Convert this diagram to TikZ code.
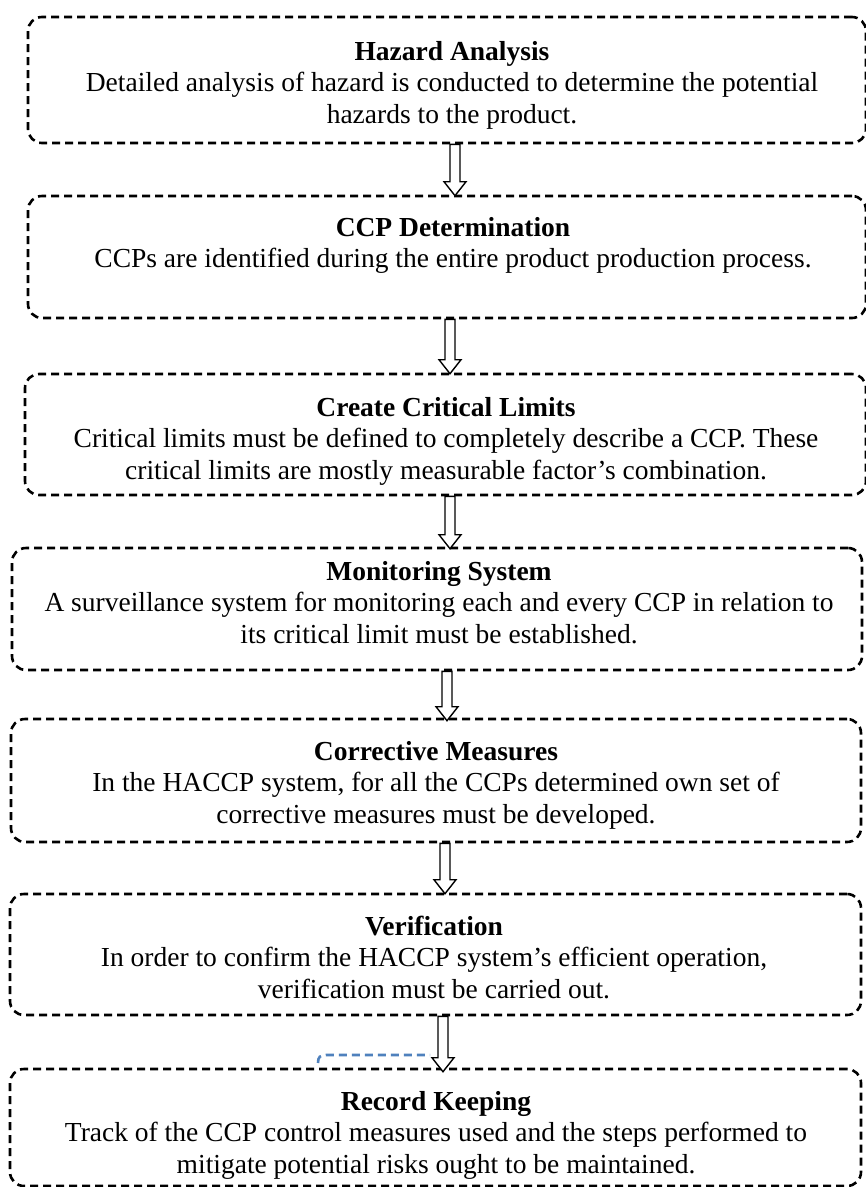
\documentclass[tikz,border=0pt]{standalone}
\usepackage{fontspec}
\setmainfont{Liberation Serif}
\usetikzlibrary{calc}
\definecolor{strayblue}{HTML}{4F81BD}
\newcommand\hollowarrow[2]{%
  \draw[hollow] ($(#1)+(-5,0)$) -- ($(#2)+(-5,-14)$) -- ($(#2)+(-11,-14)$) -- (#2)
    -- ($(#2)+(11,-14)$) -- ($(#2)+(5,-14)$) -- ($(#1)+(5,0)$) -- cycle;}
\begin{document}
\begin{tikzpicture}[x=1pt,y=-1pt,
  stepbox/.style={draw, line width=2.6pt, dash pattern=on 8pt off 5pt, rounded corners=14pt, inner sep=0pt},
  txt/.style={anchor=north, align=center, inner sep=0pt, font={\fontsize{27.5}{31.6}\selectfont}},
  hollow/.style={draw=black, line width=1.4pt, fill=white, line join=miter},
  stray/.style={draw=strayblue, line width=2.6pt, dash pattern=on 8pt off 5pt}]
\fill[white] (0,0) rectangle (866,1187);
\useasboundingbox (0,0) rectangle (866,1187);

% boxes
\node[stepbox, minimum width=838pt, minimum height=126pt] (b1) at (447,80) {};
\node[stepbox, minimum width=838pt, minimum height=122pt] (b2) at (447,257) {};
\node[stepbox, minimum width=841pt, minimum height=121pt] (b3) at (445.5,434.5) {};
\node[stepbox, minimum width=850pt, minimum height=122pt] (b4) at (437,609) {};
\node[stepbox, minimum width=850pt, minimum height=123pt] (b5) at (436,780.5) {};
\node[stepbox, minimum width=851pt, minimum height=121pt] (b6) at (435.5,954.5) {};
\node[stepbox, minimum width=851pt, minimum height=117pt] (b7) at (435.5,1127.5) {};

% texts
\node[txt] (t1) at (452,37.9) {\strut\textbf{Hazard Analysis}\\Detailed analysis of hazard is conducted to determine the potential\\hazards to the product.};
\node[txt] (t2) at (453,213.9) {\strut\textbf{CCP Determination}\\CCPs are identified during the entire product production process.};
\node[txt] (t3) at (446,393.9) {\strut\textbf{Create Critical Limits}\\Critical limits must be defined to completely describe a CCP. These\\critical limits are mostly measurable factor’s combination.};
\node[txt] (t4) at (439,557.9) {\strut\textbf{Monitoring System}\\A surveillance system for monitoring each and every CCP in relation to\\its critical limit must be established.};
\node[txt] (t5) at (436,737.9) {\strut\textbf{Corrective Measures}\\In the HACCP system, for all the CCPs determined own set of\\corrective measures must be developed.};
\node[txt] (t6) at (434,912.9) {\strut\textbf{Verification}\\In order to confirm the HACCP system’s efficient operation,\\verification must be carried out.};
\node[txt] (t7) at (436,1087.9) {\strut\textbf{Record Keeping}\\Track of the CCP control measures used and the steps performed to\\mitigate potential risks ought to be maintained.};

% arrows
\coordinate (a1s) at ($(b1.south)+(8,0)$);   \coordinate (a1e) at ($(b2.north)+(8,1)$);
\coordinate (a2s) at ($(b2.south)+(3,0)$);   \coordinate (a2e) at ($(b3.north)+(4.5,1)$);
\coordinate (a3s) at ($(b3.south)+(4.5,0)$); \coordinate (a3e) at ($(b4.north)+(13,2)$);
\coordinate (a4s) at ($(b4.south)+(10,0)$);  \coordinate (a4e) at ($(b5.north)+(11,3)$);
\coordinate (a5s) at ($(b5.south)+(9,0)$);   \coordinate (a5e) at ($(b6.north)+(9.5,1)$);
\coordinate (a6s) at ($(b6.south)+(7.5,0)$); \coordinate (a6e) at ($(b7.north)+(7.5,4)$);
\hollowarrow{a1s}{a1e}
\hollowarrow{a2s}{a2e}
\hollowarrow{a3s}{a3e}
\hollowarrow{a4s}{a4e}
\hollowarrow{a5s}{a5e}
\hollowarrow{a6s}{a6e}

% stray blue dashed segment
\draw[stray] (318,1063) .. controls (318,1057) and (320,1055) .. (326,1055) -- (430,1055);
\end{tikzpicture}
\end{document}
